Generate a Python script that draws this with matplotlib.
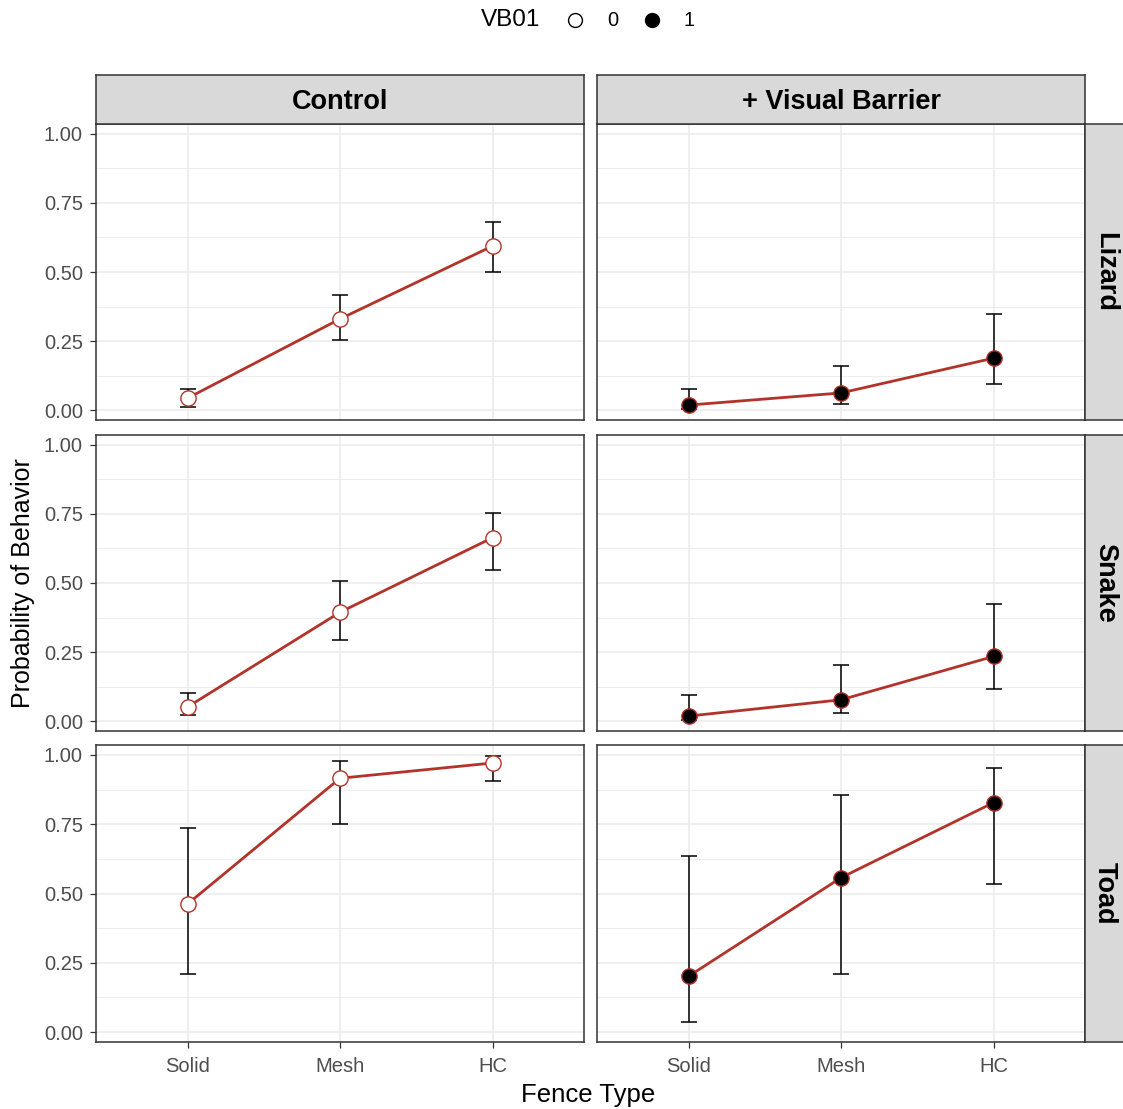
"""
Faceted point plot: probability of behavior by fence type
"""

import matplotlib
matplotlib.use("Agg")
import numpy as np
import matplotlib.pyplot as plt
from matplotlib.lines import Line2D

plt.rcParams['font.family'] = ['Liberation Sans', 'DejaVu Sans']

fences = ["Solid", "Mesh", "HC"]
columns = ["Control", "+ Visual Barrier"]
species = ["Lizard", "Snake", "Toad"]

# estimates, lower and upper CI  [species][column][fence]
prob = [
    [[0.043, 0.330, 0.594], [0.018, 0.062, 0.188]],
    [[0.051, 0.394, 0.664], [0.018, 0.077, 0.234]],
    [[0.462, 0.916, 0.971], [0.201, 0.557, 0.828]],
]
lower = [
    [[0.010, 0.254, 0.500], [0.003, 0.022, 0.094]],
    [[0.022, 0.292, 0.547], [0.004, 0.029, 0.117]],
    [[0.209, 0.751, 0.905], [0.037, 0.209, 0.535]],
]
upper = [
    [[0.075, 0.417, 0.681], [0.075, 0.160, 0.348]],
    [[0.102, 0.507, 0.755], [0.095, 0.204, 0.423]],
    [[0.736, 0.978, 0.995], [0.637, 0.857, 0.952]],
]

LINE = "#B2332A"
BORDER = "#333333"
W, H = 1123, 1109


def px(x0, y0, x1, y1):
    # pixel box -> figure fraction rect
    return [x0 / W, 1 - y1 / H, (x1 - x0) / W, (y1 - y0) / H]


fig = plt.figure(figsize=(W / 100, H / 100), dpi=100)

col_x = [(96, 584), (597, 1085)]
row_y = [(124, 420), (435, 731), (745, 1042)]
xpos = np.arange(1, 4)

for r, sp in enumerate(species):
    for c, col in enumerate(columns):
        x0, x1 = col_x[c]
        y0, y1 = row_y[r]
        ax = fig.add_axes(px(x0, y0, x1, y1))
        ax.set_xlim(0.4, 3.6)
        ax.set_ylim(-0.036, 1.036)
        ax.set_yticks([0, 0.25, 0.5, 0.75, 1.0])
        ax.set_yticks([0.125, 0.375, 0.625, 0.875], minor=True)
        ax.set_xticks(xpos)
        ax.grid(True, which='major', color='#EBEBEB', lw=1.1)
        ax.grid(True, which='minor', axis='y', color='#EBEBEB', lw=0.6)
        ax.set_axisbelow(True)
        for s in ax.spines.values():
            s.set_color(BORDER)
            s.set_linewidth(1.1)
        ax.tick_params(which='major', length=4.5, width=0.9, color='#333333',
                       labelsize=14.5, labelcolor='#4D4D4D', pad=5)
        ax.tick_params(which='minor', length=0)
        if c == 0:
            ax.set_yticklabels(["0.00", "0.25", "0.50", "0.75", "1.00"])
        else:
            ax.tick_params(axis='y', labelleft=False, length=0)
        if r == 2:
            ax.set_xticklabels(fences)
            ax.tick_params(axis='x', pad=6)
        else:
            ax.tick_params(axis='x', labelbottom=False, length=0)

        y = np.array(prob[r][c])
        lo = np.array(lower[r][c])
        hi = np.array(upper[r][c])
        ax.errorbar(xpos, y, yerr=[y - lo, hi - y], fmt='none', ecolor='black',
                    elinewidth=1.1, capsize=5.8, capthick=1.1, zorder=2)
        ax.plot(xpos, y, color=LINE, lw=2.0, zorder=3)
        face = 'white' if c == 0 else 'black'
        ax.plot(xpos, y, 'o', ms=11, mfc=face, mec=LINE, mew=1.0, zorder=4)

        # top strips
        if r == 0:
            sax = fig.add_axes(px(x0, 75, x1, 124))
            sax.set_facecolor('#D9D9D9')
            sax.set_xticks([])
            sax.set_yticks([])
            for s in sax.spines.values():
                s.set_color(BORDER)
                s.set_linewidth(1.1)
            sax.text(0.5, 0.44, col, ha='center', va='center', fontsize=19.5,
                     fontweight='bold', transform=sax.transAxes)
        # right strips
        if c == 1:
            rax = fig.add_axes(px(1085, y0, 1135, y1))
            rax.set_facecolor('#D9D9D9')
            rax.set_xticks([])
            rax.set_yticks([])
            for s in rax.spines.values():
                s.set_color(BORDER)
                s.set_linewidth(1.1)
            rax.text((1105 - 1085) / 50, 0.5, sp, ha='center', va='center',
                     fontsize=19.5, fontweight='bold', rotation=-90,
                     transform=rax.transAxes)

fig.text(588 / W, 1 - 1095 / H, "Fence Type", ha='center', va='center',
         fontsize=18.5)
fig.text(23 / W, 1 - 583 / H, "Probability of Behavior", ha='center',
         va='center', rotation=90, fontsize=18)

# legend
fig.text(511 / W, 1 - 20 / H, "VB01", ha='center', va='center', fontsize=17.5)
fig.text(613 / W, 1 - 21 / H, "0", ha='center', va='center', fontsize=14.5)
fig.text(689 / W, 1 - 21 / H, "1", ha='center', va='center', fontsize=14.5)
fig.add_artist(Line2D([575 / W], [1 - 20 / H], marker='o', ms=10, mfc='white',
                      mec='black', mew=1.0, transform=fig.transFigure))
fig.add_artist(Line2D([652 / W], [1 - 20 / H], marker='o', ms=10, mfc='black',
                      mec='black', mew=1.0, transform=fig.transFigure))

fig.savefig("out.png", dpi=100)
